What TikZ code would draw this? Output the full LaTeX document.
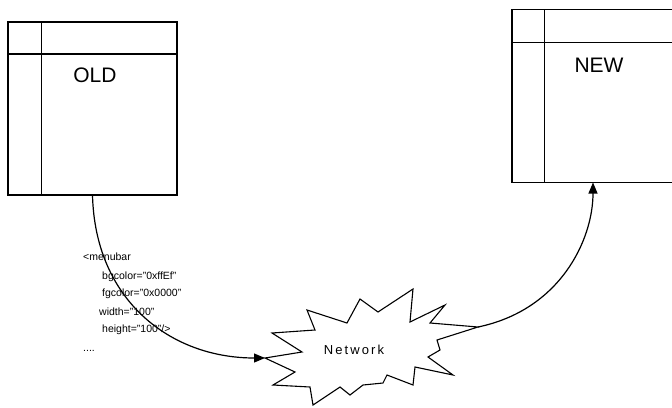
\documentclass[tikz,border=0pt]{standalone}
\usepackage{fontspec}
\setmainfont{Liberation Sans}
\usetikzlibrary{arrows.meta}
\begin{document}
\begin{tikzpicture}[x=1pt,y=-1pt,
  boxline/.style={line width=1.6pt},
  tablebox/.style={draw,boxline,minimum width=169pt,minimum height=173pt,inner sep=0pt,outer sep=0pt,anchor=north west},
  conn/.style={line width=1.2pt,-{Triangle[length=11pt,width=9pt]}},
  burst/.style={line width=1.1pt,line join=miter},
  title/.style={font=\fontsize{21}{24}\selectfont,inner sep=0pt},
  code/.style={anchor=west,inner sep=0pt,font=\fontsize{10.5}{12}\selectfont},
  ]
\useasboundingbox (0,0) rectangle (672,407);
\clip (0,0) rectangle (672,407);
% OLD table
\node[tablebox] (old) at (8,22) {};
\draw[boxline] ([xshift=33.5pt]old.north west) -- ([xshift=33.5pt]old.south west);
\draw[boxline] ([yshift=-32pt]old.north west) -- ([yshift=-32pt]old.north east);
\node[title] (oldlbl) at (95,75) {OLD};
% NEW table
\node[tablebox] (new) at (512,9.5) {};
\draw[boxline] ([xshift=32.5pt]new.north west) -- ([xshift=32.5pt]new.south west);
\draw[boxline] ([yshift=-33pt]new.north west) -- ([yshift=-33pt]new.north east);
\node[title] (newlbl) at (599,65) {NEW};
% Network starburst
\draw[burst] (265,358) coordinate (netL) -- (302,352) -- (272,333) -- (315,330) -- (307,310)
  -- (347,323) -- (360,299) -- (378,312) -- (413,289) -- (410,322) -- (445,305)
  -- (430,323) -- (478,327) coordinate (netR) -- (437,340) -- (440,350) -- (428,357)
  -- (453,375) -- (415,367) -- (413,385) -- (387,375) -- (383,383) -- (363,385)
  -- (350,395) -- (340,387) -- (313,405) -- (310,387) -- (273,385) -- (295,372) -- cycle;
\node[inner sep=0pt,font=\fontsize{13}{15}\selectfont\addfontfeature{LetterSpace=16}] (net) at (354,350) {Network};
% code text
\node[code] (c1) at (83,257) {<menubar};
\node[code] (c2) at (102,277) {bgcolor="0xffEf"};
\node[code] (c3) at (102,294) {fgcolor="0x0000"};
\node[code] (c4) at (99,312) {width="100"};
\node[code] (c5) at (102,330) {height="100"/>};
\node[code] (c6) at (83,351) {....};
% connectors
\draw[conn] (old.south) .. controls (95,300) and (170,358) .. (netL);
\draw[conn] (netR) .. controls (560,310) and (593,240) .. ([xshift=-3.5pt]new.south);
\end{tikzpicture}
\end{document}
